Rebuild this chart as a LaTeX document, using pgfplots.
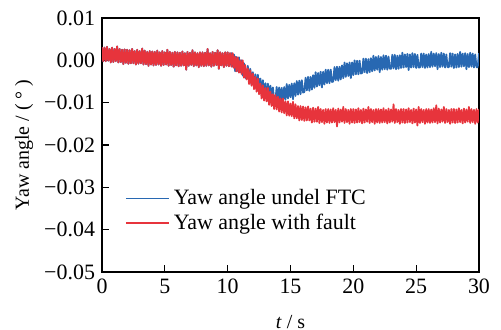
\documentclass[border=0pt]{standalone}
\usepackage{pgfplots}
\pgfplotsset{compat=1.18}
\usepackage{pgfplotstable}
\usepackage{fontspec}
\setmainfont{Liberation Serif}
\definecolor{myblue}{RGB}{40,104,178}
\definecolor{myred}{RGB}{231,52,60}

\pgfplotstableread{
t y
0 0.0031
0.1 -0.0002
0.2 0.0030
0.3 -0.0002
0.4 0.0032
0.5 -0.0001
0.6 0.0027
0.7 -0.0005
0.8 0.0030
0.9 -0.0004
1.0 0.0027
1.1 -0.0002
1.2 0.0033
1.3 -0.0005
1.4 0.0027
1.5 -0.0004
1.6 0.0025
1.7 -0.0009
1.8 0.0026
1.9 -0.0006
2.0 0.0025
2.1 -0.0008
2.2 0.0024
2.3 -0.0007
2.4 0.0027
2.5 -0.0007
2.6 0.0022
2.7 -0.0010
2.8 0.0025
2.9 -0.0008
3.0 0.0022
3.1 -0.0007
3.2 0.0028
3.3 -0.0010
3.4 0.0023
3.5 -0.0009
3.6 0.0020
3.7 -0.0013
3.8 0.0022
3.9 -0.0010
4.0 0.0021
4.1 -0.0012
4.2 0.0020
4.3 -0.0011
4.4 0.0023
4.5 -0.0010
4.6 0.0019
4.7 -0.0013
4.8 0.0022
4.9 -0.0011
5.0 0.0019
5.1 -0.0010
5.2 0.0025
5.3 -0.0013
5.4 0.0020
5.5 -0.0011
5.6 0.0018
5.7 -0.0015
5.8 0.0020
5.9 -0.0012
6.0 0.0019
6.1 -0.0014
6.2 0.0018
6.3 -0.0013
6.4 0.0021
6.5 -0.0012
6.6 0.0017
6.7 -0.0022
6.8 0.0020
6.9 -0.0013
7.0 0.0018
7.1 -0.0011
7.2 0.0024
7.3 -0.0014
7.4 0.0019
7.5 -0.0012
7.6 0.0017
7.7 -0.0016
7.8 0.0019
7.9 -0.0013
8.0 0.0019
8.1 -0.0014
8.2 0.0018
8.3 -0.0013
8.4 0.0027
8.5 -0.0012
8.6 0.0017
8.7 -0.0015
8.8 0.0020
8.9 -0.0013
9.0 0.0018
9.1 -0.0011
9.2 0.0024
9.3 -0.0020
9.4 0.0019
9.5 -0.0012
9.6 0.0017
9.7 -0.0016
9.8 0.0019
9.9 -0.0013
10.0 0.0019
10.1 -0.0014
10.2 0.0018
}\common

\pgfplotstableread{
t y
10.2 0.0018
10.3 -0.0015
10.4 0.0017
10.5 -0.0018
10.6 0.0009
10.7 -0.0026
10.8 0.0007
10.9 -0.0029
11.0 0.0000
11.1 -0.0032
11.2 0.0000
11.3 -0.0041
11.4 -0.0011
11.5 -0.0045
11.6 -0.0019
11.7 -0.0056
11.8 -0.0024
11.9 -0.0060
12.0 -0.0031
12.1 -0.0068
12.2 -0.0039
12.3 -0.0074
12.4 -0.0043
12.5 -0.0080
12.6 -0.0055
12.7 -0.0090
12.8 -0.0059
12.9 -0.0095
13.0 -0.0065
13.1 -0.0097
13.2 -0.0065
13.3 -0.0105
13.4 -0.0074
13.5 -0.0108
13.6 -0.0080
13.7 -0.0115
13.8 -0.0082
13.9 -0.0116
14.0 -0.0086
14.1 -0.0121
14.2 -0.0090
14.3 -0.0123
14.4 -0.0090
14.5 -0.0125
14.6 -0.0097
14.7 -0.0130
14.8 -0.0097
14.9 -0.0131
15.0 -0.0102
15.1 -0.0132
15.2 -0.0098
15.3 -0.0137
15.4 -0.0104
15.5 -0.0137
15.6 -0.0108
15.7 -0.0142
15.8 -0.0108
15.9 -0.0141
16.0 -0.0109
16.1 -0.0143
16.2 -0.0111
16.3 -0.0142
16.4 -0.0109
16.5 -0.0142
16.6 -0.0114
16.7 -0.0147
16.8 -0.0112
16.9 -0.0145
17.0 -0.0114
17.1 -0.0145
17.2 -0.0110
17.3 -0.0148
17.4 -0.0115
17.5 -0.0146
17.6 -0.0117
17.7 -0.0150
17.8 -0.0115
17.9 -0.0147
18.0 -0.0115
18.1 -0.0148
18.2 -0.0116
18.3 -0.0147
18.4 -0.0113
18.5 -0.0146
18.6 -0.0117
18.7 -0.0156
18.8 -0.0114
18.9 -0.0147
19.0 -0.0116
19.1 -0.0145
19.2 -0.0110
19.3 -0.0148
19.4 -0.0115
19.5 -0.0146
19.6 -0.0117
19.7 -0.0150
19.8 -0.0115
19.9 -0.0147
20.0 -0.0115
20.1 -0.0148
20.2 -0.0116
20.3 -0.0147
20.4 -0.0113
20.5 -0.0146
20.6 -0.0117
20.7 -0.0149
20.8 -0.0114
20.9 -0.0147
21.0 -0.0116
21.1 -0.0145
21.2 -0.0110
21.3 -0.0148
21.4 -0.0115
21.5 -0.0146
21.6 -0.0117
21.7 -0.0150
21.8 -0.0115
21.9 -0.0147
22.0 -0.0115
22.1 -0.0148
22.2 -0.0116
22.3 -0.0147
22.4 -0.0113
22.5 -0.0146
22.6 -0.0117
22.7 -0.0149
22.8 -0.0114
22.9 -0.0147
23.0 -0.0116
23.1 -0.0145
23.2 -0.0104
23.3 -0.0148
23.4 -0.0115
23.5 -0.0146
23.6 -0.0117
23.7 -0.0150
23.8 -0.0115
23.9 -0.0147
24.0 -0.0115
24.1 -0.0148
24.2 -0.0116
24.3 -0.0147
24.4 -0.0113
24.5 -0.0146
24.6 -0.0117
24.7 -0.0149
24.8 -0.0114
24.9 -0.0147
25.0 -0.0116
25.1 -0.0154
25.2 -0.0110
25.3 -0.0148
25.4 -0.0115
25.5 -0.0146
25.6 -0.0117
25.7 -0.0150
25.8 -0.0115
25.9 -0.0147
26.0 -0.0115
26.1 -0.0148
26.2 -0.0116
26.3 -0.0147
26.4 -0.0113
26.5 -0.0146
26.6 -0.0106
26.7 -0.0149
26.8 -0.0114
26.9 -0.0147
27.0 -0.0116
27.1 -0.0145
27.2 -0.0110
27.3 -0.0148
27.4 -0.0115
27.5 -0.0146
27.6 -0.0117
27.7 -0.0150
27.8 -0.0115
27.9 -0.0147
28.0 -0.0115
28.1 -0.0148
28.2 -0.0116
28.3 -0.0147
28.4 -0.0113
28.5 -0.0146
28.6 -0.0117
28.7 -0.0149
28.8 -0.0114
28.9 -0.0147
29.0 -0.0116
29.1 -0.0145
29.2 -0.0110
29.3 -0.0148
29.4 -0.0115
29.5 -0.0146
29.6 -0.0117
29.7 -0.0150
29.8 -0.0115
29.9 -0.0147
30.0 -0.0115
}\redtail

\pgfplotstableread{
t y
10.2 -0.0012
10.3 0.0017
10.4 -0.0015
10.5 0.0014
10.6 -0.0026
10.7 0.0008
10.8 -0.0025
10.9 0.0007
11.0 -0.0028
11.1 0.0000
11.2 -0.0036
11.3 -0.0007
11.4 -0.0040
11.5 -0.0043
11.6 -0.0013
11.7 -0.0048
11.8 -0.0020
11.9 -0.0057
12.0 -0.0028
12.1 -0.0062
12.2 -0.0033
12.3 -0.0067
12.4 -0.0034
12.5 -0.0072
12.6 -0.0043
12.7 -0.0076
12.8 -0.0047
12.9 -0.0088
13.0 -0.0054
13.1 -0.0087
13.2 -0.0055
13.3 -0.0089
13.4 -0.0060
13.5 -0.0094
13.6 -0.0064
13.7 -0.0095
13.8 -0.0095
13.9 -0.0063
14.0 -0.0095
14.1 -0.0064
14.2 -0.0097
14.3 -0.0065
14.4 -0.0095
14.5 -0.0063
14.6 -0.0093
14.7 -0.0056
14.8 -0.0090
14.9 -0.0058
15.0 -0.0087
15.1 -0.0055
15.2 -0.0092
15.3 -0.0054
15.4 -0.0084
15.5 -0.0049
15.6 -0.0081
15.7 -0.0048
15.8 -0.0080
15.9 -0.0047
16.0 -0.0076
16.1 -0.0075
16.2 -0.0041
16.3 -0.0071
16.4 -0.0039
16.5 -0.0072
16.6 -0.0039
16.7 -0.0069
16.8 -0.0035
16.9 -0.0065
17.0 -0.0028
17.1 -0.0062
17.2 -0.0030
17.3 -0.0059
17.4 -0.0027
17.5 -0.0064
17.6 -0.0027
17.7 -0.0057
17.8 -0.0022
17.9 -0.0054
18.0 -0.0022
18.1 -0.0054
18.2 -0.0022
18.3 -0.0051
18.4 -0.0050
18.5 -0.0016
18.6 -0.0047
18.7 -0.0015
18.8 -0.0048
18.9 -0.0015
19.0 -0.0045
19.1 -0.0012
19.2 -0.0042
19.3 -0.0005
19.4 -0.0039
19.5 -0.0007
19.6 -0.0037
19.7 -0.0005
19.8 -0.0042
19.9 -0.0005
20.0 -0.0035
20.1 0.0000
20.2 -0.0033
20.3 -0.0001
20.4 -0.0033
20.5 -0.0001
20.6 -0.0031
20.7 -0.0030
20.8 0.0004
20.9 -0.0028
21.0 0.0004
21.1 -0.0030
21.2 0.0003
21.3 -0.0028
21.4 0.0005
21.5 -0.0026
21.6 0.0011
21.7 -0.0024
21.8 0.0008
21.9 -0.0022
22.0 0.0010
22.1 -0.0028
22.2 0.0008
22.3 -0.0022
22.4 0.0012
22.5 -0.0021
22.6 0.0011
22.7 -0.0022
22.8 0.0009
22.9 -0.0020
23.0 -0.0020
23.1 0.0013
23.2 -0.0019
23.3 0.0013
23.4 -0.0021
23.5 0.0011
23.6 -0.0020
23.7 0.0012
23.8 -0.0018
23.9 0.0018
24.0 -0.0017
24.1 0.0014
24.2 -0.0016
24.3 0.0015
24.4 -0.0023
24.5 0.0014
24.6 -0.0017
24.7 0.0017
24.8 -0.0016
24.9 0.0015
25.0 -0.0018
25.1 0.0013
25.2 -0.0017
25.3 -0.0017
25.4 0.0016
25.5 -0.0016
25.6 0.0016
25.7 -0.0018
25.8 0.0014
25.9 -0.0017
26.0 0.0015
26.1 -0.0016
26.2 0.0020
26.3 -0.0015
26.4 0.0016
26.5 -0.0014
26.6 0.0017
26.7 -0.0021
26.8 0.0015
26.9 -0.0016
27.0 0.0018
27.1 -0.0015
27.2 0.0016
27.3 -0.0017
27.4 0.0014
27.5 -0.0016
27.6 -0.0016
27.7 0.0017
27.8 -0.0015
27.9 0.0016
28.0 -0.0018
28.1 0.0014
28.2 -0.0017
28.3 0.0015
28.4 -0.0016
28.5 0.0020
28.6 -0.0015
28.7 0.0016
28.8 -0.0014
28.9 0.0017
29.0 -0.0021
29.1 0.0015
29.2 -0.0016
29.3 0.0018
29.4 -0.0015
29.5 0.0016
29.6 -0.0017
29.7 0.0014
29.8 -0.0016
29.9 -0.0016
30.0 0.0017
}\bluetail

\begin{document}
\begin{tikzpicture}
\begin{axis}[
  scale only axis, width=188.5bp, height=127bp,
  xmin=0, xmax=30, ymin=-0.05, ymax=0.01,
  scaled y ticks=false, scaled x ticks=false,
  xtick={0,5,10,15,20,25,30}, xticklabels={0,5,10,15,20,25,30},
  ytick={-0.05,-0.04,-0.03,-0.02,-0.01,0,0.01},
  yticklabels={−0.05,−0.04,−0.03,−0.02,−0.01,0.00,0.01},
  xtick pos=bottom, ytick pos=left, tick align=inside, major tick length=3.5bp,
  axis line style={line width=0.6bp},
  every tick/.style={black, line width=0.6bp},
  tick label style={font=\fontsize{11}{13}\selectfont, text=black},
  label style={font=\fontsize{11}{13}\selectfont},
  xlabel={\textit{t} / s}, ylabel={Yaw angle / ( ° )},
  every axis x label/.style={at={(rel axis cs:0.5,0)}, yshift=-25bp, anchor=center},
  every axis y label/.style={at={(rel axis cs:0,0.5)}, xshift=-39bp, rotate=90, anchor=center},
  legend style={draw=none, fill=none, at={(0.060,0.241)}, anchor=west,
    font=\fontsize{11}{13}\selectfont, inner sep=0pt, row sep=-1bp},
  legend cell align=left,
  legend image code/.code={\draw[#1, line width=0.9bp] (0bp,0bp) -- (21.5bp,0bp);},
]
\coordinate (O) at (rel axis cs:0,0);
\addplot[myblue, line width=0.9bp, line join=round, no markers, forget plot] table {\common};
\addplot[myblue, line width=0.9bp, line join=round, no markers] table {\bluetail};
\addlegendentry{Yaw angle undel FTC}
\addplot[myred, line width=0.9bp, line join=round, no markers, forget plot] table {\common};
\addplot[myred, line width=0.9bp, line join=round, no markers] table {\redtail};
\addlegendentry{Yaw angle with fault}
\end{axis}
\pgfresetboundingbox
\path (O) ++(-51bp,-29bp) rectangle ++(250.5bp,165bp);
\end{tikzpicture}
\end{document}
